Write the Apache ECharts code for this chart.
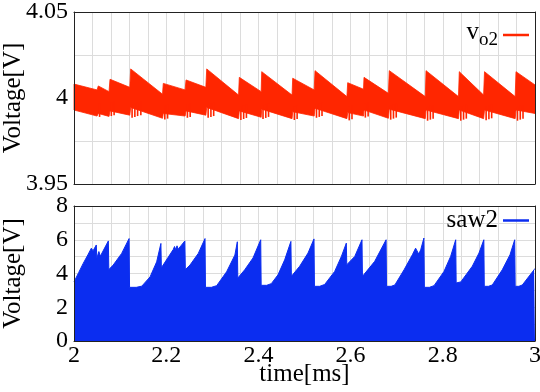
<!DOCTYPE html>
<html>
<head>
<meta charset="utf-8">
<script src="https://cdn.jsdelivr.net/npm/echarts@6/dist/echarts.min.js"></script>
<style>
html, body { margin: 0; padding: 0; background: #fff; }
#chart { width: 540px; height: 392px; }
</style>
</head>
<body>
<div id="chart"></div>
<script>
// v_o2 ripple band: upper / lower envelope at breakpoints (ms, V)
const topTime = [2.000, 2.050, 2.0527, 2.076, 2.0781, 2.121, 2.123, 2.192, 2.1937, 2.241, 2.243, 2.286, 2.2879,
  2.357, 2.3586, 2.406, 2.4072, 2.473, 2.4744, 2.521, 2.5228, 2.592, 2.5937, 2.628, 2.6291, 2.682, 2.6839,
  2.762, 2.7636, 2.834, 2.8358, 2.8885, 2.8905, 2.957, 2.9588, 3.000];
const topHi = [4.0081, 4.0047, 4.0070, 4.0037, 4.0109, 4.0062, 4.0169, 4.0022, 4.0085, 4.0047, 4.0105, 4.0062, 4.0169,
  4.0017, 4.0120, 4.0037, 4.0153, 4.0017, 4.0115, 4.0047, 4.0159, 4.0008, 4.0089, 4.0051, 4.0120, 4.0027, 4.0159,
  4.0008, 4.0159, 4.0008, 4.0153, 4.0017, 4.0153, 4.0008, 4.0153, 4.0076];
const topLo = [3.9930, 3.9895, 3.9910, 3.9893, 3.9925, 3.9900, 3.9945, 3.9882, 3.9910, 3.9895, 3.9925, 3.9900, 3.9945,
  3.9880, 3.9925, 3.9888, 3.9935, 3.9880, 3.9920, 3.9895, 3.9940, 3.9880, 3.9915, 3.9895, 3.9930, 3.9882, 3.9935,
  3.9880, 3.9930, 3.9880, 3.9930, 3.9880, 3.9930, 3.9880, 3.9930, 3.9910];
// downward spikes after the jumps (ms, lowest V)
const spikeTime = [2.0555, 2.081, 2.087, 2.126, 2.132, 2.138, 2.145, 2.197, 2.203, 2.246, 2.252, 2.291, 2.297, 2.303,
  2.362, 2.368, 2.374, 2.410, 2.416, 2.422, 2.478, 2.484, 2.526, 2.532, 2.538, 2.597, 2.603, 2.632, 2.638,
  2.687, 2.693, 2.699, 2.767, 2.773, 2.779, 2.839, 2.845, 2.851, 2.894, 2.900, 2.906, 2.962, 2.968, 2.974];
const spikeLow = [3.9890, 3.9895, 3.9900, 3.9885, 3.9890, 3.9895, 3.9900, 3.9875, 3.9880, 3.9885, 3.9890, 3.9885, 3.9890, 3.9895,
  3.9872, 3.9878, 3.9884, 3.9878, 3.9884, 3.9890, 3.9872, 3.9878, 3.9885, 3.9890, 3.9895, 3.9870, 3.9876, 3.9886, 3.9892,
  3.9874, 3.9880, 3.9886, 3.9868, 3.9874, 3.9880, 3.9868, 3.9874, 3.9880, 3.9870, 3.9876, 3.9882, 3.9868, 3.9874, 3.9880];

// saw2 envelope (ms, V)
const sawTime = [2.000, 2.010, 2.020, 2.030, 2.0376, 2.0412, 2.0484, 2.0495, 2.054, 2.057, 2.0745, 2.0755, 2.085, 2.1034,
  2.1195, 2.1205, 2.135, 2.147, 2.165, 2.1793, 2.1885, 2.1895, 2.2155, 2.218, 2.2205, 2.2235, 2.226, 2.2405, 2.2415,
  2.2516, 2.2696, 2.2842, 2.2852, 2.298, 2.3095, 2.331, 2.349, 2.3543, 2.3553, 2.3703, 2.3883, 2.405, 2.406, 2.418,
  2.428, 2.4425, 2.457, 2.4705, 2.4715, 2.4895, 2.5076, 2.5206, 2.5216, 2.533, 2.5437, 2.5654, 2.580, 2.5907, 2.5917,
  2.609, 2.6247, 2.6257, 2.6523, 2.677, 2.678, 2.688, 2.696, 2.716, 2.734, 2.741, 2.7445, 2.7477, 2.752, 2.759, 2.760,
  2.771, 2.781, 2.8026, 2.817, 2.828, 2.829, 2.839, 2.864, 2.8785, 2.889, 2.890, 2.899, 2.9074, 2.929, 2.9458, 2.956,
  2.957, 2.965, 2.9725, 2.998, 3.000];
const sawValue = [3.50, 4.05, 4.60, 5.10, 5.50, 5.34, 5.69, 4.90, 5.30, 5.02, 5.93, 4.23, 4.50, 5.19,
  6.07, 3.18, 3.18, 3.25, 3.80, 4.69, 5.78, 4.34, 5.43, 5.60, 5.42, 5.64, 5.44, 5.93, 4.23,
  4.50, 5.19, 6.07, 3.18, 3.18, 3.28, 4.10, 5.09, 5.88, 3.73, 4.22, 4.92, 6.00, 3.30, 3.30,
  3.40, 3.92, 4.81, 5.90, 3.83, 4.43, 5.21, 6.05, 3.24, 3.24, 3.35, 4.12, 5.01, 5.80, 4.52,
  5.01, 6.00, 3.83, 4.72, 6.00, 3.24, 3.24, 3.32, 4.22, 5.11, 5.50, 5.54, 5.16, 5.40, 6.10, 3.18,
  3.18, 3.28, 4.12, 5.01, 6.00, 3.44, 3.50, 4.43, 5.21, 6.00, 3.24, 3.24, 3.32, 4.22, 5.11, 6.00,
  3.24, 3.24, 3.32, 4.22, 4.30];

const RED = '#ff2600';
const BLUE = '#0b2df0';
const FONT = 'Liberation Serif';
const GRIDC = '#dcdcdc';
const FRAME = '#222';

const chart = echarts.init(document.getElementById('chart'));

// axes carrying labels and grid lines (drawn under the data)
const xBase = (idx, showLabel) => ({
  type: 'value', gridIndex: idx, min: 2, max: 3, interval: 0.2,
  axisLine: { show: false },
  axisTick: { show: false },
  axisLabel: { show: showLabel, color: '#000', fontFamily: FONT, fontSize: 24, margin: 3 },
  splitLine: { show: true, lineStyle: { color: GRIDC } },
  minorTick: { show: false, splitNumber: 5 },
  minorSplitLine: { show: true, lineStyle: { color: GRIDC } },
});
const yBase = (idx, min, max, interval) => ({
  type: 'value', gridIndex: idx, min: min, max: max, interval: interval,
  name: 'Voltage[V]', nameLocation: 'middle', nameGap: 48, nameMoveOverlap: false,
  nameTextStyle: { color: '#000', fontFamily: FONT, fontSize: 25 },
  axisLine: { show: false },
  axisTick: { show: false },
  axisLabel: { color: '#000', fontFamily: FONT, fontSize: 24, margin: 6 },
  splitLine: { show: true, lineStyle: { color: GRIDC } },
  minorTick: { show: false, splitNumber: 2 },
  minorSplitLine: { show: true, lineStyle: { color: GRIDC } },
});
// frame-only axes on top of the data
const xFrame = (idx, pos) => ({
  type: 'value', gridIndex: idx, min: 2, max: 3, position: pos, z: 10,
  axisLine: { show: true, onZero: false, lineStyle: { color: FRAME, width: 1 } },
  axisTick: { show: false }, axisLabel: { show: false }, splitLine: { show: false },
});
const yFrame = (idx, min, max, pos) => ({
  type: 'value', gridIndex: idx, min: min, max: max, position: pos, z: 10,
  axisLine: { show: true, onZero: false, lineStyle: { color: FRAME, width: 1 } },
  axisTick: { show: false }, axisLabel: { show: false }, splitLine: { show: false },
});

const xBottom = Object.assign(xBase(1, true), {
  name: 'time[ms]', nameLocation: 'middle', nameGap: 21, nameMoveOverlap: false,
  nameTextStyle: { color: '#000', fontFamily: FONT, fontSize: 25 },
});

chart.setOption({
  animation: false,
  backgroundColor: '#fff',
  grid: [
    { left: 74, right: 5, top: 12, height: 172, outerBoundsMode: 'none', containLabel: false },
    { left: 74, right: 5, top: 206, height: 135, outerBoundsMode: 'none', containLabel: false },
  ],
  legend: [
    {
      data: ['vo2'], right: 6, top: 15, align: 'right', icon: 'rect', itemWidth: 26, itemHeight: 2.5,
      formatter: () => '{v|v}{s|o2}',
      textStyle: {
        color: '#000', fontFamily: FONT,
        rich: {
          v: { fontFamily: FONT, fontSize: 25, color: '#000', verticalAlign: 'top', lineHeight: 30 },
          s: { fontFamily: FONT, fontSize: 19, color: '#000', verticalAlign: 'bottom', lineHeight: 30 },
        },
      },
    },
    {
      data: ['saw2'], right: 6, top: 203, align: 'right', icon: 'rect', itemWidth: 26, itemHeight: 2.5,
      textStyle: { color: '#000', fontFamily: FONT, fontSize: 25 },
    },
  ],
  xAxis: [
    xBase(0, false), xBottom,
    xFrame(0, 'bottom'), xFrame(0, 'top'), xFrame(1, 'bottom'), xFrame(1, 'top'),
  ],
  yAxis: [
    yBase(0, 3.95, 4.05, 0.05), yBase(1, 0, 8, 2),
    yFrame(0, 3.95, 4.05, 'left'), yFrame(0, 3.95, 4.05, 'right'), yFrame(1, 0, 8, 'left'), yFrame(1, 0, 8, 'right'),
  ],
  series: [
    {
      name: 'vo2', type: 'custom', xAxisIndex: 0, yAxisIndex: 0,
      itemStyle: { color: RED },
      data: topTime.map((t, i) => [t, topHi[i], topLo[i]]),
      encode: { x: 0, y: [1, 2] },
      renderItem: (params, api) => {
        if (params.dataIndex !== 0) return null;
        const pts = [];
        for (let i = 0; i < topTime.length; i++) pts.push(api.coord([topTime[i], topHi[i]]));
        for (let i = topTime.length - 1; i >= 0; i--) pts.push(api.coord([topTime[i], topLo[i]]));
        return { type: 'polygon', shape: { points: pts }, style: { fill: RED, stroke: RED, lineWidth: 0.8 } };
      },
    },
    {
      name: 'vo2', type: 'custom', xAxisIndex: 0, yAxisIndex: 0,
      itemStyle: { color: RED },
      data: spikeTime.map((t, i) => [t, spikeLow[i]]),
      renderItem: (params, api) => {
        const p0 = api.coord([api.value(0), api.value(1)]);
        const p1 = api.coord([api.value(0), api.value(1) + 0.008]);
        return { type: 'line', shape: { x1: p0[0], y1: p0[1], x2: p1[0], y2: p1[1] }, style: { stroke: RED, lineWidth: 1.6 } };
      },
    },
    {
      name: 'saw2', type: 'line', xAxisIndex: 1, yAxisIndex: 1,
      data: sawTime.map((t, i) => [t, sawValue[i]]),
      symbol: 'none',
      itemStyle: { color: BLUE },
      lineStyle: { color: BLUE, width: 1 },
      areaStyle: { color: BLUE, opacity: 1 },
    },
  ],
});
</script>
</body>
</html>
